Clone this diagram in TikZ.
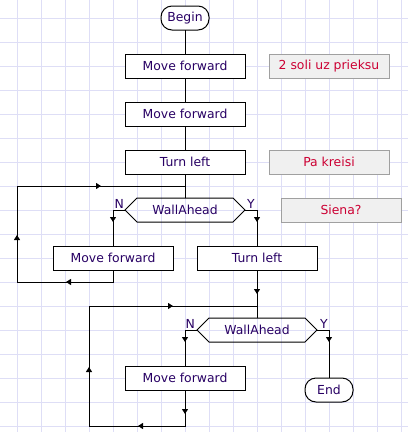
\documentclass[tikz,border=0pt]{standalone}
\usepackage{fontspec}
\setmainfont{DejaVu Sans}
\usetikzlibrary{shapes,arrows.meta,positioning,decorations.markings}
\definecolor{gridline}{RGB}{222,222,246}
\definecolor{labeltext}{RGB}{40,0,100}
\definecolor{notetext}{RGB}{204,0,51}
\definecolor{notefill}{RGB}{240,240,240}
\definecolor{noteedge}{RGB}{160,160,160}

\begin{document}
\begin{tikzpicture}[
    x=1pt, y=-1pt,
    every node/.style={font=\fontsize{12.4}{15}\selectfont, text=labeltext},
    block/.style={rectangle, draw, fill=white, line width=1pt, minimum width=120pt, minimum height=24pt, inner sep=0pt, outer sep=0pt},
    term/.style={rectangle, draw, fill=white, line width=1pt, rounded corners=11pt, minimum width=48pt, minimum height=24pt, inner sep=0pt, outer sep=0pt},
    test/.style={signal, signal to=west and east, signal pointer angle=90, draw, line width=1pt, minimum width=120pt, minimum height=24pt, inner sep=0pt, outer sep=0pt},
    note/.style={rectangle, draw=noteedge, fill=notefill, line width=1pt, text=notetext, minimum width=120pt, minimum height=24pt, inner sep=0pt, outer sep=0pt},
    branch/.style={inner sep=0pt},
    flow/.style={line width=1pt},
    tip at/.style={postaction={decorate, decoration={markings, mark=at position #1 with {\arrow{Triangle[width=6pt,length=5pt]}}}}}
]
    % paper
    \fill[white] (0,0) rectangle (408,432);
    \useasboundingbox (0,0) rectangle (408,432);
    \foreach \gx in {17,41,...,401}
        \draw[gridline, line width=1pt] (\gx,0) -- (\gx,432);
    \foreach \gy in {18,42,...,426}
        \draw[gridline, line width=1pt] (0,\gy) -- (408,\gy);

    % main chain
    \node[term] (begin) at (185,18) {Begin};
    \node[block, below=24pt of begin] (move1) {Move forward};
    \node[block, below=24pt of move1] (move2) {Move forward};
    \node[block, below=24pt of move2] (turn1) {Turn left};
    \node[test, below=24pt of turn1] (wall1) {WallAhead};
    \node[block, below=24pt of wall1, xshift=-72pt] (moveL) {Move forward};
    \node[block, below=24pt of wall1, xshift=72pt] (turnR) {Turn left};
    \node[test, below=48pt of turnR] (wall2) {WallAhead};
    \node[block, below=24pt of wall2, xshift=-72pt] (move3) {Move forward};
    \node[term, below=36pt of wall2, xshift=72pt] (end) {End};

    % comments
    \node[note, right=24pt of move1] (note1) {2 soli uz prieksu};
    \node[note, right=24pt of turn1] (note2) {Pa kreisi};
    \node[note, right=36pt of wall1] (note3) {Siena?};

    % branch letters
    \node[branch, anchor=south east, xshift=-1pt, yshift=1pt] (n1) at (wall1.west) {N};
    \node[branch, anchor=south west, xshift=2pt, yshift=1pt] (y1) at (wall1.east) {Y};
    \node[branch, anchor=south east, xshift=-2pt, yshift=1pt] (n2) at (wall2.west) {N};
    \node[branch, anchor=south west, xshift=3pt, yshift=1pt] (y2) at (wall2.east) {Y};

    % loop corners
    \coordinate (join1) at (185,186);
    \coordinate (back1) at (17,282);
    \coordinate (join2) at (257,306);
    \coordinate (back2) at (89,426);

    \draw[flow] (begin) -- (move1);
    \draw[flow] (move1) -- (move2);
    \draw[flow] (move2) -- (turn1);
    \draw[flow] (turn1) -- (wall1);
    \draw[flow, tip at=24pt] (wall1.west) -| (moveL.north);
    \draw[flow, tip at=24pt] (wall1.east) -| (turnR.north);
    \draw[flow, tip at=59pt, tip at=155pt, tip at=288pt] (moveL.south) |- (back1) |- (join1);
    \draw[flow, tip at=24pt] (turnR) -- (wall2);
    \draw[flow, tip at=24pt] (wall2.west) -| (move3.north);
    \draw[flow, tip at=24pt] (wall2.east) -| (end.north);
    \draw[flow, tip at=24pt, tip at=83pt, tip at=191pt, tip at=336pt] (move3.south) |- (back2) |- (join2);
\end{tikzpicture}
\end{document}
